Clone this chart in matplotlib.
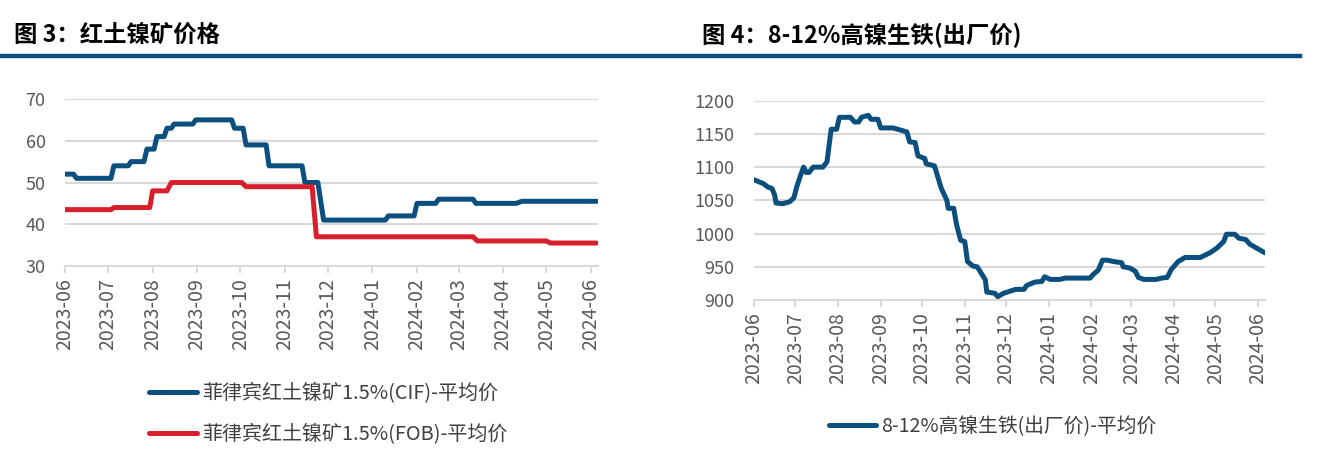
import pandas as pd
import matplotlib
matplotlib.use('Agg')
import matplotlib.pyplot as plt
import matplotlib.dates as mdates
from matplotlib.lines import Line2D

plt.rcParams['font.family'] = ['Noto Sans CJK SC', 'DejaVu Sans']

# ---- 图3 红土镍矿价格 ----
cif_dates = ['2023-06-01', '2023-06-07', '2023-06-09', '2023-07-03', '2023-07-05', '2023-07-15',
             '2023-07-17', '2023-07-26', '2023-07-28', '2023-08-02', '2023-08-04', '2023-08-09',
             '2023-08-11', '2023-08-14', '2023-08-16', '2023-08-29', '2023-08-31', '2023-09-25',
             '2023-09-27', '2023-10-03', '2023-10-05', '2023-10-19', '2023-10-21', '2023-11-13',
             '2023-11-15', '2023-11-24', '2023-11-28', '2024-01-10', '2024-01-12', '2024-01-30',
             '2024-02-01', '2024-02-14', '2024-02-16', '2024-03-11', '2024-03-13', '2024-04-10',
             '2024-04-14', '2024-06-05']
cif_values = [52, 52, 51, 51, 54, 54,
              55, 55, 58, 58, 61, 61,
              63, 63, 64, 64, 65, 65,
              63, 63, 59, 59, 54, 54,
              50, 50, 41, 41, 42, 42,
              45, 45, 46, 46, 45, 45,
              45.5, 45.5]

fob_dates = ['2023-06-01', '2023-07-03', '2023-07-05', '2023-07-30', '2023-08-01', '2023-08-11',
             '2023-08-14', '2023-10-02', '2023-10-05', '2023-11-20', '2023-11-23', '2024-03-11',
             '2024-03-14', '2024-05-01', '2024-05-04', '2024-06-05']
fob_values = [43.5, 43.5, 44, 44, 48, 48,
              50, 50, 49, 49, 37, 37,
              36, 36, 35.5, 35.5]

# ---- 图4 8-12%高镍生铁 ----
npi_dates = ['2023-06-01', '2023-06-08', '2023-06-11', '2023-06-14', '2023-06-16', '2023-06-17',
             '2023-06-22', '2023-06-27', '2023-06-30', '2023-07-02', '2023-07-05', '2023-07-07',
             '2023-07-09', '2023-07-11', '2023-07-14', '2023-07-21', '2023-07-24', '2023-07-27',
             '2023-07-31', '2023-08-02', '2023-08-10', '2023-08-13', '2023-08-16', '2023-08-18',
             '2023-08-23', '2023-08-25', '2023-08-30', '2023-09-01', '2023-09-10', '2023-09-20',
             '2023-09-22', '2023-09-26', '2023-09-28', '2023-10-03', '2023-10-04', '2023-10-10',
             '2023-10-15', '2023-10-19', '2023-10-20', '2023-10-24', '2023-10-26', '2023-10-29',
             '2023-11-01', '2023-11-03', '2023-11-07', '2023-11-10', '2023-11-14', '2023-11-16',
             '2023-11-17', '2023-11-23', '2023-11-25', '2023-11-29', '2023-12-05', '2023-12-08',
             '2023-12-14', '2023-12-16', '2023-12-22', '2023-12-27', '2023-12-29', '2024-01-02',
             '2024-01-09', '2024-01-13', '2024-01-31', '2024-02-02', '2024-02-06', '2024-02-09',
             '2024-02-12', '2024-02-17', '2024-02-23', '2024-02-24', '2024-02-29', '2024-03-04',
             '2024-03-06', '2024-03-10', '2024-03-19', '2024-03-23', '2024-03-27', '2024-03-30',
             '2024-04-04', '2024-04-09', '2024-04-20', '2024-04-27', '2024-05-02', '2024-05-07',
             '2024-05-09', '2024-05-15', '2024-05-18', '2024-05-23', '2024-05-26', '2024-05-31',
             '2024-06-06']
npi_values = [1081, 1075, 1070, 1068, 1058, 1046,
              1045, 1048, 1054, 1070, 1089, 1100,
              1092, 1092, 1100, 1100, 1108, 1157,
              1157, 1175, 1175, 1168, 1168, 1175,
              1178, 1172, 1172, 1159, 1159, 1153,
              1138, 1137, 1117, 1113, 1105, 1102,
              1068, 1050, 1038, 1038, 1014, 990,
              988, 958, 951, 950, 937, 930,
              912, 910, 905, 910, 914, 916,
              916, 922, 927, 928, 935, 931,
              931, 933, 933, 938, 945, 960,
              960, 958, 956, 950, 948, 943,
              934, 931, 931, 933, 934, 946,
              958, 964, 964, 971, 978, 988,
              999, 999, 993, 991, 984, 978,
              971]

blue = '#0b4f7f'
red = '#d7202b'
grid_c = '#d9d9d9'
tick_c = '#595959'

fig = plt.figure(figsize=(13.21, 4.62), dpi=100)

# 标题和蓝色分隔线
fig.text(14 / 1321, 1 - 35 / 462, '图 3：红土镍矿价格', fontsize=16.8, fontweight='bold', va='center', ha='left')
fig.text(702 / 1321, 1 - 35 / 462, '图 4：8-12%高镍生铁(出厂价)', fontsize=16.8, fontweight='bold', va='center', ha='left')
fig.add_artist(Line2D([0, 1300 / 1321], [1 - 55.5 / 462] * 2, color=blue, lw=3.2, transform=fig.transFigure))


def style_axis(ax, ylim, yticks):
    ax.set_ylim(*ylim)
    ax.set_yticks(yticks)
    ax.set_xlim(pd.Timestamp('2023-06-01'), pd.Timestamp('2024-06-06'))
    ax.xaxis.set_major_locator(mdates.MonthLocator())
    ax.xaxis.set_major_formatter(mdates.DateFormatter('%Y-%m'))
    for s in ['top', 'right', 'left']:
        ax.spines[s].set_visible(False)
    ax.spines['bottom'].set_color(grid_c)
    ax.spines['bottom'].set_linewidth(1.5)
    ax.grid(axis='y', color=grid_c, lw=1.5)
    ax.set_axisbelow(True)
    ax.tick_params(axis='y', length=0, labelsize=13, labelcolor=tick_c, pad=14)
    ax.tick_params(axis='x', length=5, width=1.5, color=grid_c, labelsize=14, labelcolor=tick_c,
                   labelrotation=90, pad=4)


# 左图
ax1 = fig.add_axes([65 / 1321, 1 - 266 / 462, (598 - 65) / 1321, (266 - 99) / 462])
ax1.plot(pd.to_datetime(cif_dates), cif_values, color=blue, lw=3.6,
         solid_capstyle='round', solid_joinstyle='round', label='菲律宾红土镍矿1.5%(CIF)-平均价')
ax1.plot(pd.to_datetime(fob_dates), fob_values, color=red, lw=3.6,
         solid_capstyle='round', solid_joinstyle='round', label='菲律宾红土镍矿1.5%(FOB)-平均价')
style_axis(ax1, (30, 70), [30, 40, 50, 60, 70])
leg1 = ax1.legend(loc='upper left', bbox_to_anchor=(131 / 1321, 1 - 365 / 462), bbox_transform=fig.transFigure,
                  frameon=False, fontsize=14.4, handlelength=2.4, handletextpad=0.25, labelspacing=1.0)
for t in leg1.get_texts():
    t.set_color('#404040')

# 右图
ax2 = fig.add_axes([754 / 1321, 1 - 300 / 462, (1265 - 754) / 1321, (300 - 100.7) / 462])
ax2.plot(pd.to_datetime(npi_dates), npi_values, color=blue, lw=3.6,
         solid_capstyle='round', solid_joinstyle='round', label='8-12%高镍生铁(出厂价)-平均价')
style_axis(ax2, (900, 1200), [900, 950, 1000, 1050, 1100, 1150, 1200])
leg2 = ax2.legend(loc='upper left', bbox_to_anchor=(811 / 1321, 1 - 398 / 462), bbox_transform=fig.transFigure,
                  frameon=False, fontsize=14.2, handlelength=2.4, handletextpad=0.25)
for t in leg2.get_texts():
    t.set_color('#404040')

fig.savefig('out.png', dpi=100)
